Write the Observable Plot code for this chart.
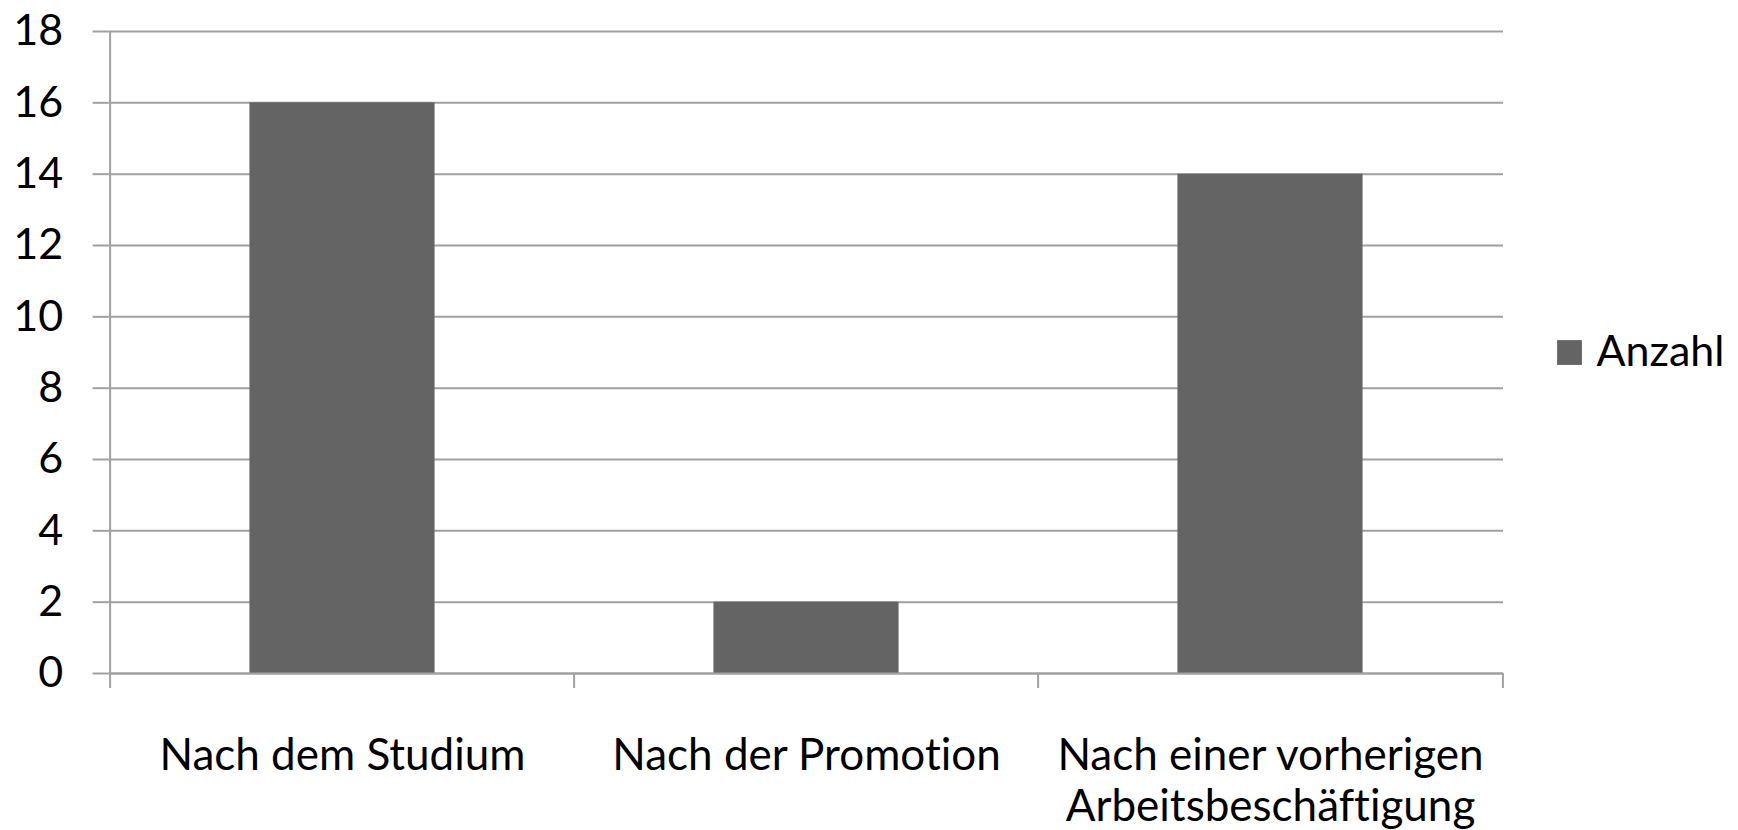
<!DOCTYPE html>
<html>
<head>
<meta charset="utf-8">
<script src="https://cdn.jsdelivr.net/npm/d3@7"></script>
<script src="https://cdn.jsdelivr.net/npm/@observablehq/plot@0.6"></script>
<style>
  html, body { margin: 0; padding: 0; background: #fff; }
  #chart { width: 1738px; height: 830px; }
  #chart svg text { font-variant-ligatures: none; }
</style>
</head>
<body>
<div id="chart"></div>
<script>
const categories = ["Nach dem Studium", "Nach der Promotion", "Nach einer vorherigen Arbeitsbeschäftigung"];
const tickLabels = ["Nach dem Studium", "Nach der Promotion", "Nach einer vorherigen\nArbeitsbeschäftigung"];
const values = [16, 2, 14];
const seriesName = "Anzahl";
const yTicks = [0, 2, 4, 6, 8, 10, 12, 14, 16, 18];

const data = categories.map((c, i) => ({category: c, value: values[i]}));

const W = 1738, H = 830;
const mL = 108.6, mR = 235, mT = 31, mB = 157;
const step = (W - mL - mR) / categories.length;
const gridColor = "#a0a0a0";
const barColor = "#646464";
const font = "Lato, 'Open Sans', sans-serif";

const chart = Plot.plot({
  width: W,
  height: H,
  marginLeft: mL,
  marginRight: mR,
  marginTop: mT,
  marginBottom: mB,
  style: {fontFamily: font, background: "#fff", color: "#000"},
  x: {type: "band", domain: categories, padding: 0},
  y: {type: "linear", domain: [0, 18], ticks: yTicks},
  marks: [
    Plot.gridY(yTicks, {stroke: gridColor, strokeOpacity: 1, strokeWidth: 2}),
    Plot.axisY(yTicks, {text: null, tickSize: 16, stroke: gridColor, strokeWidth: 2, label: null}),
    Plot.axisY(yTicks, {tickSize: 0, tickPadding: 46, fontSize: 43, fill: "#000", label: null}),
    Plot.barY(data, {x: "category", y: "value", fill: barColor, insetLeft: step * 0.3, insetRight: step * 0.3}),
    Plot.ruleY([0], {stroke: gridColor, strokeWidth: 2}),
    Plot.ruleX([categories[0]], {x: d => d, dx: -step / 2, y1: 0, y2: 18, stroke: gridColor, strokeWidth: 2}),
    Plot.axisX({tickSize: 0, tickPadding: 61, fontSize: 44, fill: "#000", label: null, lineHeight: 1.15, tickFormat: (d) => tickLabels[categories.indexOf(d)]}),
    Plot.axisX(categories, {text: null, tickSize: 15, dx: -step / 2, stroke: gridColor, strokeWidth: 2, label: null}),
    Plot.axisX([categories[categories.length - 1]], {text: null, tickSize: 15, dx: step / 2, stroke: gridColor, strokeWidth: 2, label: null}),
    Plot.dot([seriesName], {frameAnchor: "right", dx: 66, symbol: "square", r: 14, fill: barColor, stroke: null}),
    Plot.text([seriesName], {frameAnchor: "right", dx: 93, text: d => d, textAnchor: "start", fontSize: 43, fill: "#000"})
  ]
});
document.getElementById("chart").appendChild(chart);
</script>
</body>
</html>
